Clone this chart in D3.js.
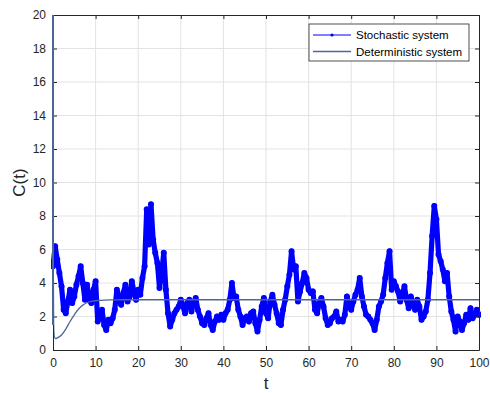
<!DOCTYPE html>
<html>
<head>
<meta charset="utf-8">
<script src="https://cdn.jsdelivr.net/npm/d3@7"></script>
<style>
  html, body { margin: 0; padding: 0; background: #fff; }
  svg { display: block; font-family: "Liberation Sans", Arial, sans-serif; }
</style>
</head>
<body>
<div id="chart"></div>
<script>
// stochastic C(t), sampled every 0.5 from t=0 to t=100
const stochT0 = 0, stochStep = 0.5;
const stochastic = [
  5.0, 6.2, 5.4, 4.6, 3.8, 2.4, 2.2, 2.9, 3.6, 2.8,
  3.2, 3.9, 4.4, 5.0, 4.0, 3.0, 3.9, 3.0, 2.8, 3.6,
  4.1, 1.7, 2.0, 2.4, 1.5, 1.2, 1.8, 1.6, 1.9, 2.4,
  3.6, 3.0, 2.7, 3.4, 3.9, 2.9, 3.2, 4.1, 3.5, 3.0,
  3.6, 3.3, 4.3, 5.0, 8.4, 6.3, 8.7, 6.6, 5.8, 5.2,
  3.7, 4.6, 5.8, 3.6, 2.2, 1.4, 1.8, 2.2, 2.4, 2.6,
  3.0, 2.6, 2.2, 2.8, 3.0, 2.3, 2.8, 3.1, 2.4, 2.0,
  1.6, 1.5, 1.9, 2.2, 1.5, 1.2, 1.7, 2.0, 1.8, 2.1,
  1.8, 2.2, 2.4, 3.0, 4.0, 3.1, 3.2, 2.4, 2.0, 1.5,
  1.9, 2.0, 1.7, 2.2, 2.3, 1.6, 1.1, 1.8, 2.6, 3.1,
  2.2, 1.9, 2.9, 3.3, 2.7, 2.2, 1.6, 1.5, 2.4, 3.0,
  3.8, 4.5, 5.9, 4.8, 5.0, 2.9, 3.5, 4.0, 4.6, 4.3,
  3.6, 3.4, 3.5, 2.4, 2.2, 2.8, 3.1, 2.6, 1.9, 1.5,
  1.6, 1.9, 2.0, 2.3, 1.7, 1.8, 1.7, 2.1, 3.2, 2.6,
  2.4, 2.9, 3.3, 3.6, 4.3, 3.2, 2.6, 2.1, 2.0, 1.8,
  1.6, 1.2, 1.8, 2.6, 2.9, 3.3, 4.3, 5.2, 5.9, 3.6,
  4.1, 3.8, 3.5, 2.9, 3.3, 3.8, 3.0, 2.5, 3.2, 2.7,
  2.4, 3.0, 2.6, 1.8, 2.0, 2.3, 3.0, 4.6, 6.8, 8.6,
  7.8, 5.7, 5.3, 4.8, 4.1, 4.6, 3.2, 2.3, 1.8, 1.1,
  2.0, 1.7, 1.2, 1.6, 2.1, 1.8, 2.5, 1.9, 2.1, 2.4,
  2.1
];

// deterministic C(t)
const detT = [0, 0.05, 0.15, 0.3, 0.6, 1, 2, 3, 4, 5, 6, 7, 8, 9, 10, 11, 12, 14, 16, 20, 30, 50, 100];
const detC = [20, 6, 1.5, 0.8, 0.68, 0.72, 0.9, 1.25, 1.7, 2.1, 2.45, 2.68, 2.82, 2.9, 2.94, 2.96, 2.98, 2.99, 3.0, 3.0, 3.0, 3.0, 3.0];

const xTicks = [0, 10, 20, 30, 40, 50, 60, 70, 80, 90, 100];
const yTicks = [0, 2, 4, 6, 8, 10, 12, 14, 16, 18, 20];
const seriesNames = ["Stochastic system", "Deterministic system"];
const seriesColors = ["#0000ff", "#4a6796"];

const W = 490, H = 393;
const margin = { top: 15, right: 11, bottom: 43, left: 53 };
const iw = W - margin.left - margin.right;
const ih = H - margin.top - margin.bottom;

const svg = d3.select("#chart").append("svg")
  .attr("width", W).attr("height", H);

const x = d3.scaleLinear().domain([0, 100]).range([0, iw]);
const y = d3.scaleLinear().domain([0, 20]).range([ih, 0]);

const g = svg.append("g").attr("transform", `translate(${margin.left},${margin.top})`);

// grid
g.append("g").selectAll("line").data(xTicks.slice(1, -1)).join("line")
  .attr("x1", d => x(d)).attr("x2", d => x(d)).attr("y1", 0).attr("y2", ih)
  .attr("stroke", "#e3e3e3").attr("stroke-width", 1);
g.append("g").selectAll("line").data(yTicks.slice(1, -1)).join("line")
  .attr("y1", d => y(d)).attr("y2", d => y(d)).attr("x1", 0).attr("x2", iw)
  .attr("stroke", "#e3e3e3").attr("stroke-width", 1);

g.append("clipPath").attr("id", "clip").append("rect")
  .attr("x", -2).attr("y", -2).attr("width", iw + 4).attr("height", ih + 4);

const plot = g.append("g").attr("clip-path", "url(#clip)");

// stochastic series (thick band of dots like the MATLAB '.-' trace)
const stochData = stochastic.map((v, i) => [stochT0 + i * stochStep, v]);
const line = d3.line().x(d => x(d[0])).y(d => y(d[1]));
plot.append("path").datum(stochData)
  .attr("d", line)
  .attr("fill", "none").attr("stroke", seriesColors[0])
  .attr("stroke-width", 5.2).attr("stroke-linejoin", "round").attr("stroke-linecap", "round");
plot.append("g").selectAll("circle").data(stochData).join("circle")
  .attr("cx", d => x(d[0])).attr("cy", d => y(d[1])).attr("r", 3)
  .attr("fill", seriesColors[0]);

// deterministic series
const detData = detT.map((t, i) => [t, detC[i]]);
plot.append("path").datum(detData)
  .attr("d", d3.line().curve(d3.curveMonotoneX).x(d => x(d[0])).y(d => y(d[1])))
  .attr("fill", "none").attr("stroke", seriesColors[1]).attr("stroke-width", 1.3);

// axes (ticks inside, box on)
const axisColor = "#262626";
const styleAxis = sel => {
  sel.select(".domain").attr("stroke", axisColor);
  sel.selectAll(".tick line").attr("stroke", axisColor);
  sel.selectAll(".tick text").attr("fill", "#262626").style("font-size", "12px")
    .style("font-family", "Liberation Sans, Arial, sans-serif");
};
g.append("g").attr("transform", `translate(0,${ih})`)
  .call(d3.axisBottom(x).tickValues(xTicks).tickSizeInner(-4).tickSizeOuter(0).tickPadding(8))
  .call(styleAxis);
g.append("g")
  .call(d3.axisLeft(y).tickValues(yTicks).tickSizeInner(-4).tickSizeOuter(0).tickPadding(7))
  .call(styleAxis);
g.append("g")
  .call(d3.axisTop(x).tickValues(xTicks).tickSizeInner(-4).tickSizeOuter(0).tickFormat(""))
  .call(styleAxis);
g.append("g").attr("transform", `translate(${iw},0)`)
  .call(d3.axisRight(y).tickValues(yTicks).tickSizeInner(-4).tickSizeOuter(0).tickFormat(""))
  .call(styleAxis);

// redraw the deterministic start over the left axis
g.append("line")
  .attr("x1", x(0)).attr("x2", x(0)).attr("y1", y(20)).attr("y2", y(1.5))
  .attr("stroke", seriesColors[1]).attr("stroke-width", 2);

// axis labels
svg.append("text").attr("x", margin.left + iw / 2).attr("y", 389)
  .attr("text-anchor", "middle").style("font-size", "17px").attr("fill", "#262626").text("t");
svg.append("text").attr("transform", `translate(25,${margin.top + ih / 2}) rotate(-90)`)
  .attr("text-anchor", "middle").style("font-size", "17px").attr("fill", "#262626").text("C(t)");

// legend
const lg = svg.append("g").attr("transform", "translate(309,24)");
lg.append("rect").attr("width", 160).attr("height", 37)
  .attr("fill", "#fff").attr("stroke", "#262626").attr("stroke-width", 0.8);
seriesNames.forEach((name, i) => {
  const yy = 11 + i * 16.5;
  lg.append("line").attr("x1", 4).attr("x2", 42).attr("y1", yy).attr("y2", yy)
    .attr("stroke", seriesColors[i]).attr("stroke-width", i === 0 ? 1.2 : 1.3);
  if (i === 0) lg.append("circle").attr("cx", 23).attr("cy", yy).attr("r", 1.6).attr("fill", seriesColors[0]);
  lg.append("text").attr("x", 47).attr("y", yy + 4).style("font-size", "11.5px")
    .attr("fill", "#000").text(name);
});
</script>
</body>
</html>
